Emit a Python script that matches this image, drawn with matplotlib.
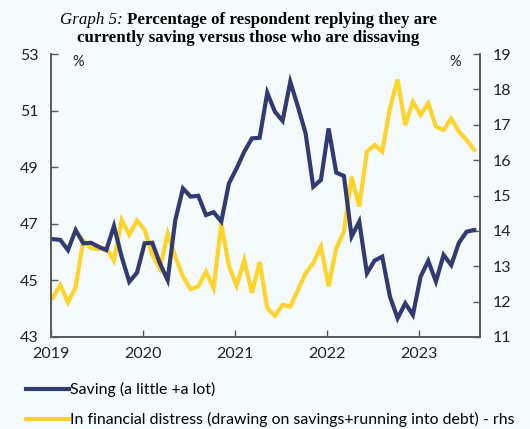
import numpy as np
import matplotlib
matplotlib.use('Agg')
import matplotlib.pyplot as plt

# monthly survey data, Jan 2019 - Aug 2023
years = [2019, 2020, 2021, 2022, 2023]
saving = [46.46, 46.43, 46.07, 46.78, 46.31, 46.33, 46.19, 46.07, 46.92, 45.84, 44.95, 45.27,
          46.31, 46.33, 45.60, 45.01, 47.13, 48.25, 47.96, 47.99, 47.31, 47.41, 47.08, 48.43,
          48.96, 49.55, 50.02, 50.04, 51.63, 50.96, 50.64, 52.02, 51.14, 50.20, 48.31, 48.55,
          50.37, 48.81, 48.69, 46.55, 47.08, 45.25, 45.70, 45.84, 44.43, 43.66, 44.19, 43.78,
          45.13, 45.69, 44.96, 45.90, 45.54, 46.33, 46.72, 46.78]
distress = [12.10, 12.47, 11.98, 12.41, 13.73, 13.51, 13.48, 13.53, 13.16, 14.31, 13.89, 14.29,
            14.03, 13.32, 12.93, 13.93, 13.27, 12.71, 12.35, 12.43, 12.85, 12.38, 14.20, 13.01,
            12.45, 13.18, 12.24, 13.12, 11.82, 11.60, 11.91, 11.86, 12.33, 12.80, 13.09, 13.56,
            12.43, 13.51, 13.98, 15.53, 14.69, 16.24, 16.43, 16.24, 17.47, 18.28, 16.99, 17.65,
            17.28, 17.61, 16.95, 16.85, 17.18, 16.81, 16.57, 16.29]
label_saving = 'Saving (a little +a lot)'
label_distress = 'In financial distress (drawing on savings+running into debt) - rhs'

navy = '#323a72'
yellow = '#ffd42a'
bg = '#f5fafd'
axcol = '#5a5a5a'

t = 2019 + (np.arange(len(saving)) + 0.25) / 12

plt.rcParams['font.family'] = ['Lato', 'DejaVu Sans']
fig = plt.figure(figsize=(5.3, 4.29), dpi=100, facecolor=bg)
ax = fig.add_axes([0.0957, 0.2145, 0.81, 0.6595], facecolor=bg)
ax2 = ax.twinx()

l1, = ax.plot(t, saving, color=navy, lw=3, solid_joinstyle='miter', label=label_saving)
l2, = ax2.plot(t, distress, color=yellow, lw=3, solid_joinstyle='miter', label=label_distress)
ax.set_zorder(ax2.get_zorder() + 1)
ax.patch.set_visible(False)

ax.set_xlim(2019, 2023.667)
ax.set_ylim(43, 53)
ax2.set_ylim(11, 19)
ax.set_xticks(years)
ax.set_xticklabels([str(y) for y in years])
ax.set_yticks(range(43, 54, 2))
ax2.set_yticks(range(11, 20))

for a in (ax, ax2):
    a.spines['top'].set_visible(False)
    for s in ('left', 'right', 'bottom'):
        a.spines[s].set_color(axcol)
        a.spines[s].set_linewidth(1.2)
ax.tick_params(axis='both', direction='in', length=5, width=1, color=axcol,
               labelsize=11.5, labelcolor='#222222')
ax.tick_params(axis='y', pad=9)
ax.tick_params(axis='x', pad=7)
ax2.tick_params(axis='y', direction='in', length=5, width=1, color=axcol,
                labelsize=11.5, labelcolor='#222222', pad=9)

ax.text(0.05, 0.995, '%', transform=ax.transAxes, ha='left', va='top', fontsize=10.5, color='#222222')
ax2.text(0.955, 0.995, '%', transform=ax.transAxes, ha='right', va='top', fontsize=10.5, color='#222222')

# title: italic prefix + bold remainder, centred
fig.canvas.draw()
r = fig.canvas.get_renderer()
cx = 248 / 530
p1 = fig.text(0, 0, 'Graph 5: ', fontsize=12.2, family='Liberation Serif', style='italic',
              va='baseline')
p2 = fig.text(0, 0, 'Percentage of respondent replying they are', fontsize=12.2,
              family='Liberation Serif', weight='bold', va='baseline')
w1 = p1.get_window_extent(r).width / fig.bbox.width
w2 = p2.get_window_extent(r).width / fig.bbox.width
x0 = cx - (w1 + w2) / 2
yb = 1 - 24 / 429
p1.set_position((x0, yb))
p2.set_position((x0 + w1, yb))
fig.text(cx, 1 - 42 / 429, 'currently saving versus those who are dissaving', fontsize=12.2,
         family='Liberation Serif', weight='bold', ha='center', va='baseline')

fig.legend(handles=[l1, l2], loc='upper left', bbox_to_anchor=(26 / 530, 1 - 382 / 429),
           frameon=False, fontsize=11.4, handlelength=2.7, handletextpad=0.1,
           labelspacing=0.95, borderaxespad=0, borderpad=0)

fig.savefig('out.png', dpi=100, facecolor=bg)
